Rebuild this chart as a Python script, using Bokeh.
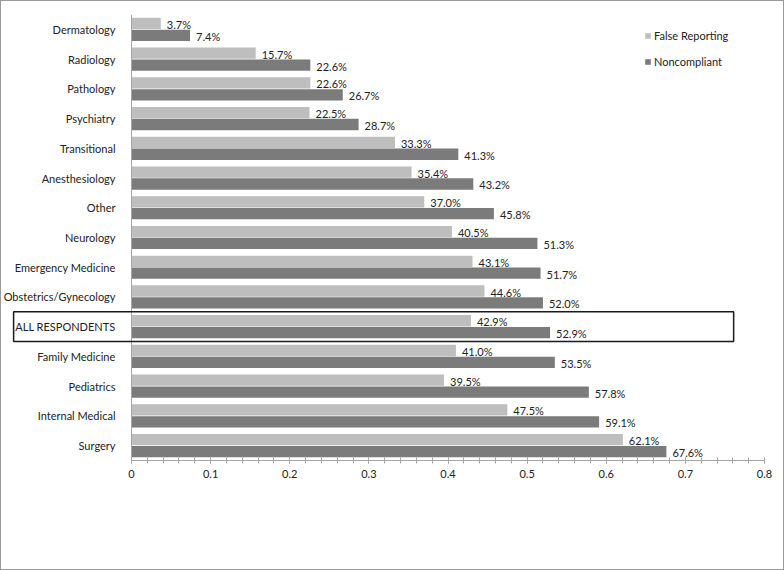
from bokeh.plotting import figure
from bokeh.models import (ColumnDataSource, FactorRange, Range1d, BoxAnnotation,
                          Legend, LegendItem, SingleIntervalTicker, NumeralTickFormatter)
from bokeh.transform import dodge
from bokeh.core.properties import value
from bokeh.embed import file_html
from bokeh.resources import INLINE

# ---- data (top to bottom as shown) ----
categories = ["Dermatology", "Radiology", "Pathology", "Psychiatry", "Transitional",
              "Anesthesiology", "Other", "Neurology", "Emergency Medicine",
              "Obstetrics/Gynecology", "ALL RESPONDENTS", "Family Medicine",
              "Pediatrics", "Internal Medical", "Surgery"]
false_reporting = [0.037, 0.157, 0.226, 0.225, 0.333, 0.354, 0.370, 0.405, 0.431,
                   0.446, 0.429, 0.410, 0.395, 0.475, 0.621]
noncompliant = [0.074, 0.226, 0.267, 0.287, 0.413, 0.432, 0.458, 0.513, 0.517,
                0.520, 0.529, 0.535, 0.578, 0.591, 0.676]
series_names = ["False Reporting", "Noncompliant"]
highlight = "ALL RESPONDENTS"

FONT = "Lato"
FS = "11px"
TXT = "#222222"
LIGHT = "#bebebe"
DARK = "#7b7b7b"
AXIS = "#a6a6a6"

# layout (pixels): frame spans x 2..763, value 0 sits at x=130
FRAME_L, ZERO_PX, FRAME_R = 2, 130, 763
XMAX = 0.8
scale = (FRAME_R - ZERO_PX) / XMAX
xmin = -(ZERO_PX - FRAME_L) / scale

src = ColumnDataSource(dict(
    cat=categories,
    fr=false_reporting,
    nc=noncompliant,
    fr_lab=[f"{v*100:.1f}%" for v in false_reporting],
    nc_lab=[f"{v*100:.1f}%" for v in noncompliant],
))

factors = list(reversed(categories))
p = figure(width=784, height=570, output_backend="svg", toolbar_location=None,
           y_range=FactorRange(factors=factors, range_padding=0),
           x_range=Range1d(xmin, XMAX),
           min_border_left=FRAME_L, min_border_right=784 - FRAME_R, min_border_top=13,
           min_border_bottom=111)
p.styles = {"border": "1px solid #9a9a9a", "box-sizing": "border-box"}
p.outline_line_color = None
p.grid.visible = False
p.background_fill_color = "white"
p.border_fill_color = "white"

r1 = p.hbar(y=dodge("cat", 0.2, range=p.y_range), right="fr", height=0.38, left=0,
            source=src, fill_color=LIGHT, line_color=None)
r2 = p.hbar(y=dodge("cat", -0.2, range=p.y_range), right="nc", height=0.38, left=0,
            source=src, fill_color=DARK, line_color=None)

p.text(x="fr", y=dodge("cat", 0.2, range=p.y_range), text="fr_lab", source=src,
       x_offset=6, y_offset=1, text_baseline="middle", text_align="left",
       text_font=value(FONT), text_font_size=FS, text_color=TXT)
p.text(x="nc", y=dodge("cat", -0.2, range=p.y_range), text="nc_lab", source=src,
       x_offset=6, y_offset=1, text_baseline="middle", text_align="left",
       text_font=value(FONT), text_font_size=FS, text_color=TXT)

# x axis
xa = p.xaxis[0]
xa.bounds = (0, XMAX)
xa.ticker = SingleIntervalTicker(interval=0.1, num_minor_ticks=5)
xa.formatter = NumeralTickFormatter(format="0.[0]")
xa.axis_line_color = AXIS
xa.major_tick_line_color = AXIS
xa.minor_tick_line_color = AXIS
xa.major_tick_in = 3
xa.major_tick_out = 3
xa.minor_tick_in = 3
xa.minor_tick_out = 3
xa.major_label_standoff = 6
xa.major_label_text_font = FONT
xa.major_label_text_font_size = FS
xa.major_label_text_color = TXT

# y axis, pinned at value 0
ya = p.yaxis[0]
ya.fixed_location = 0
ya.axis_line_color = AXIS
ya.major_tick_line_color = None
ya.minor_tick_line_color = None
ya.major_label_standoff = 10
ya.major_label_text_font = FONT
ya.major_label_text_font_size = FS
ya.major_label_text_color = TXT

# highlight box around ALL RESPONDENTS row
idx = factors.index(highlight)
box = BoxAnnotation(left=-0.149, right=0.761, bottom=idx, top=idx + 1,
                    fill_alpha=0, line_color="#1a1a1a", line_alpha=1.0,
                    line_width=1.5, level="overlay")
p.add_layout(box)

legend = Legend(items=[LegendItem(label=series_names[0], renderers=[r1]),
                       LegendItem(label=series_names[1], renderers=[r2])],
                location=(641, 392), orientation="vertical",
                glyph_width=7, glyph_height=7, label_standoff=3,
                label_height=14, spacing=12, padding=0, margin=0,
                border_line_color=None, background_fill_alpha=0,
                label_text_font=FONT, label_text_font_size=FS,
                label_text_color=TXT)
p.add_layout(legend)

open("out.html", "w").write(file_html(p, INLINE))
